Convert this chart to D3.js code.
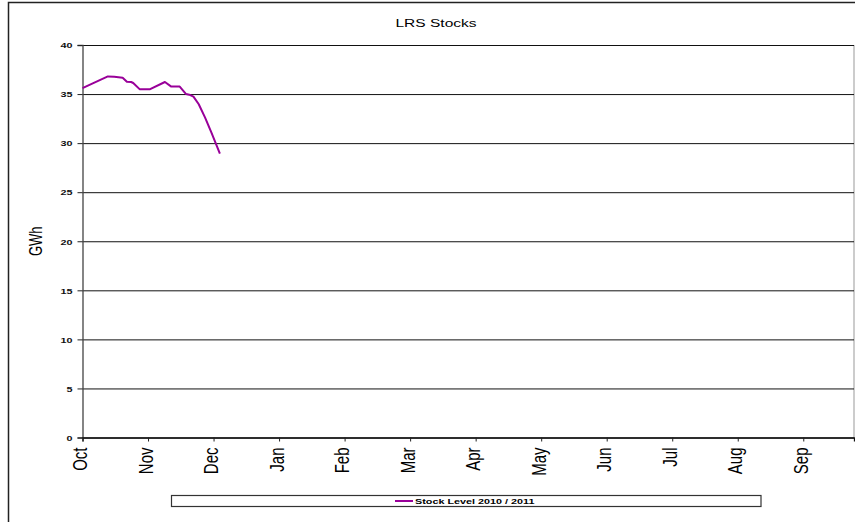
<!DOCTYPE html>
<html>
<head>
<meta charset="utf-8">
<script src="https://cdn.jsdelivr.net/npm/d3@7"></script>
<style>
  body { margin: 0; background: #fff; }
  svg { display: block; }
</style>
</head>
<body>
<svg id="chart" width="855" height="522"></svg>
<script>
// ---- data ----
const title = "LRS Stocks";
const yLabel = "GWh";
const seriesName = "Stock Level 2010 / 2011";
const monthLabels = ["Oct","Nov","Dec","Jan","Feb","Mar","Apr","May","Jun","Jul","Aug","Sep"];
const daysPerTick = 31;
const totalDays = 365;
const yTicks = [0,5,10,15,20,25,30,35,40];
// day index from 1 Oct 2010, stock level (GWh)
const stockDays   = [0,    12,   15,    19,    21,    23,    24,    27,   32,   39,    42,    46,    49,   51,   52.5,  55,    58,   61,    65];
const stockValues = [35.6, 36.8, 36.77, 36.67, 36.26, 36.23, 36.13, 35.5, 35.5, 36.23, 35.76, 35.76, 35.0, 34.9, 34.74, 33.96, 32.6, 31.08, 28.94];

// ---- layout ----
const svg = d3.select("#chart");
const W = 855, H = 522;
const plot = {left: 82.5, right: 854, top: 45, bottom: 437.5};
const SX = 1.35; // horizontal stretch of the original rendering
const font = "'Liberation Sans', Arial, sans-serif";

const x = d3.scaleLinear().domain([0, totalDays]).range([plot.left, plot.right]);
const y = d3.scaleLinear().domain([0, 40]).range([plot.bottom, plot.top]);

// outer frame
svg.append("rect").attr("x", 8.5).attr("y", 2.5).attr("width", W + 20).attr("height", H + 20)
  .attr("fill", "#fff").attr("stroke", "#222").attr("stroke-width", 1.5);

// plot area border (right side grey)
svg.append("line").attr("x1", plot.right).attr("x2", plot.right).attr("y1", plot.top).attr("y2", plot.bottom)
  .attr("stroke", "#999").attr("stroke-width", 1);

// gridlines
const grid = svg.append("g").attr("transform", `translate(${plot.left},0)`)
  .call(d3.axisLeft(y).tickValues(yTicks).tickSize(-(plot.right - plot.left)).tickFormat(""));
grid.select(".domain").remove();
grid.selectAll("line").attr("stroke", "#111").attr("stroke-width", 1);

// y axis
const yAxis = svg.append("g").attr("transform", `translate(${plot.left},0)`)
  .call(d3.axisLeft(y).tickValues(yTicks).tickSize(5).tickPadding(0).tickFormat(d3.format("d")));
yAxis.select(".domain").attr("stroke", "#444").attr("stroke-width", 1.3);
yAxis.selectAll(".tick line").attr("stroke", "#222");
yAxis.selectAll(".tick text")
  .attr("x", null).attr("dy", "0.35em")
  .attr("text-anchor", "end")
  .attr("transform", `translate(-10,0) scale(${SX},1)`)
  .attr("font-family", font).attr("font-weight", "bold").attr("font-size", 8).attr("fill", "#111");

// x axis
const xAxis = svg.append("g").attr("transform", `translate(0,${plot.bottom})`)
  .call(d3.axisBottom(x).tickValues(monthLabels.map((m, i) => i * daysPerTick)).tickSize(4)
    .tickFormat((d, i) => monthLabels[i]));
xAxis.select(".domain").attr("stroke", "#111").attr("stroke-width", 1.3);
xAxis.selectAll(".tick line").attr("stroke", "#222");
xAxis.selectAll(".tick text")
  .attr("y", null).attr("x", null).attr("dy", "0.35em")
  .attr("text-anchor", "end")
  .attr("transform", `translate(-3,10) scale(${SX},1) rotate(-90)`)
  .attr("font-family", font).attr("font-size", 15).attr("fill", "#000");

// line
const pts = stockDays.map((d, i) => [d, stockValues[i]]);
svg.append("path").datum(pts)
  .attr("fill", "none").attr("stroke", "#990099").attr("stroke-width", 2).attr("stroke-linejoin", "round")
  .attr("d", d3.line().x(d => x(d[0])).y(d => y(d[1])));

// title
svg.append("text").attr("text-anchor", "middle")
  .attr("transform", `translate(436,26.5) scale(${SX},1)`)
  .attr("font-family", font).attr("font-size", 11.5).attr("fill", "#000").text(title);

// y label
svg.append("text").attr("text-anchor", "middle")
  .attr("transform", `translate(41.5,${(plot.top + plot.bottom) / 2}) scale(${SX},1) rotate(-90)`)
  .attr("font-family", font).attr("font-size", 13).attr("fill", "#000").text(yLabel);

// legend
const lg = svg.append("g");
lg.append("rect").attr("x", 171.5).attr("y", 495.5).attr("width", 589.5).attr("height", 11)
  .attr("fill", "#fff").attr("stroke", "#333").attr("stroke-width", 1.2);
lg.append("line").attr("x1", 395).attr("x2", 413).attr("y1", 501).attr("y2", 501)
  .attr("stroke", "#990099").attr("stroke-width", 2);
lg.append("text").attr("transform", `translate(415,503.8) scale(${SX},1)`)
  .attr("font-family", font).attr("font-weight", "bold").attr("font-size", 8).attr("fill", "#000")
  .text(seriesName);
</script>
</body>
</html>
